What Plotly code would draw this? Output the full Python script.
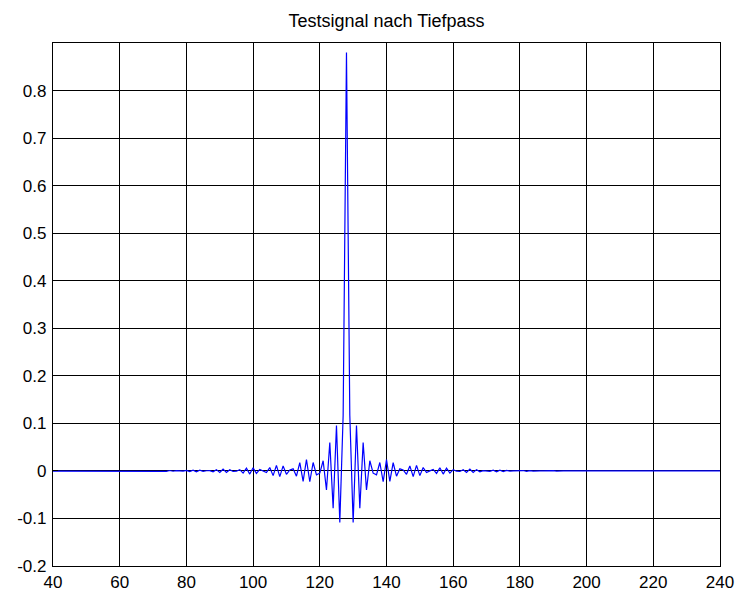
import plotly.graph_objects as go

# Lowpass-filtered test signal: 256 samples, response centred on sample 128
n_samples = 256
center_index = 128
center_value = 0.88

# Filter response left of the centre (offsets -64 ... -1)
left_taps = [
    0.0003, -0.0004, 0.0004, -0.0004, 0.0003, -0.0001, -0.0001, 0.0003,
    -0.0005, 0.0007, -0.0008, 0.0008, -0.0007, 0.0004, 0.0,
    -0.0005, 0.0010, -0.0014, 0.0017, -0.0018, 0.0016, -0.0011, 0.0003,
    0.0007, -0.0017,
    0.0027, -0.0033, 0.0036, -0.0034, 0.0025, -0.0012, -0.0006, 0.0026,
    -0.0045, 0.0059,
    -0.0067, 0.0065, -0.0053, 0.0030, 0.0, -0.0035, 0.0070, -0.0099,
    0.0117, -0.0120,
    0.0105, -0.0071, 0.0020, 0.0043, -0.0110, 0.0172, -0.0219, 0.0240,
    -0.0228, 0.0177,
    -0.0084, -0.0048, 0.0213, -0.0401, 0.0597, -0.0787, 0.0955, -0.1087,
    0.1171,
]
# Filter response right of the centre (offsets +1 ... +64)
right_taps = [
    0.1171, -0.1087, 0.0955, -0.0787, 0.0597, -0.0401, 0.0213, -0.0048,
    -0.0084,
    0.0177, -0.0228, 0.0240, -0.0219, 0.0172, -0.0110, 0.0043, 0.0020,
    -0.0071, 0.0105,
    -0.0120, 0.0117, -0.0099, 0.0070, -0.0035, 0.0, 0.0030, -0.0053,
    0.0065, -0.0067,
    0.0059, -0.0045, 0.0026, -0.0006, -0.0012, 0.0025, -0.0034, 0.0036,
    -0.0033, 0.0027,
    -0.0017, 0.0007, 0.0003, -0.0011, 0.0016, -0.0018, 0.0017, -0.0014,
    0.0010, -0.0005,
    0.0, 0.0004, -0.0007, 0.0008, -0.0008, 0.0007, -0.0004, 0.0003,
    -0.0001, -0.0001, 0.0003, -0.0004, 0.0004, -0.0004, 0.0003,
]

x_ticks = [40, 60, 80, 100, 120, 140, 160, 180, 200, 220, 240]
y_ticks = [-0.2, -0.1, 0, 0.1, 0.2, 0.3, 0.4, 0.5, 0.6, 0.7, 0.8]
y_tick_labels = ["-0.2", "-0.1", "0", "0.1", "0.2", "0.3", "0.4",
                 "0.5", "0.6", "0.7", "0.8"]

# Assemble the full sample sequence (signal is zero outside the filter span)
first_tap = center_index - len(left_taps)
last_tap = center_index + len(right_taps)
samples = list(range(1, n_samples + 1))
signal = ([0.0] * (first_tap - 1) + left_taps + [center_value]
          + right_taps + [0.0] * (n_samples - last_tap))

font_family = "Liberation Sans, Arial, Helvetica, sans-serif"

fig = go.Figure(
    go.Scatter(
        x=samples,
        y=signal,
        mode="lines",
        line=dict(color="#0000FF", width=1.2),
        hoverinfo="x+y",
    )
)

axis_common = dict(
    showgrid=True,
    gridcolor="black",
    gridwidth=1,
    showline=True,
    linecolor="black",
    linewidth=1.2,
    mirror=True,
    zeroline=False,
    ticks="inside",
    ticklen=5,
    tickcolor="black",
    automargin=False,
    tickfont=dict(family=font_family, size=17, color="black"),
)

fig.update_xaxes(
    range=[40, 240],
    tickvals=x_ticks,
    ticktext=[str(v) for v in x_ticks],
    ticklabelstandoff=0,
    **axis_common,
)
fig.update_yaxes(
    range=[-0.2, 0.9],
    tickvals=y_ticks,
    ticktext=y_tick_labels,
    ticklabelstandoff=2,
    **axis_common,
)

plot_left, plot_right = 53, 736 - 16
fig.update_layout(
    width=736,
    height=591,
    margin=dict(l=plot_left, r=16, t=43, b=25),
    paper_bgcolor="white",
    plot_bgcolor="white",
    showlegend=False,
    title=dict(
        text="Testsignal nach Tiefpass",
        x=0.5 * (plot_left + plot_right) / 736,
        xanchor="center",
        y=1 - 21 / 591,
        yanchor="middle",
        font=dict(family=font_family, size=18, color="black"),
    ),
)

fig.write_html("out.html")
